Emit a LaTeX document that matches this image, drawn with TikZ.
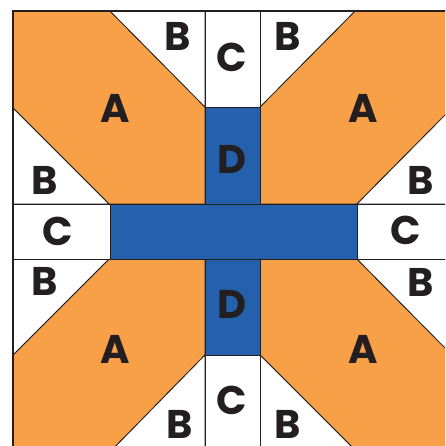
\documentclass[tikz,border=0pt]{standalone}
\usepackage{fontspec}
\setmainfont{Poppins}
\definecolor{qorange}{RGB}{247,160,72}
\definecolor{qblue}{RGB}{36,96,172}
\definecolor{qline}{RGB}{35,31,32}
\begin{document}
\begin{tikzpicture}[x=1pt,y=-1pt,
  piece/.style={draw=qline,line width=0.8pt,line join=miter},
  apiece/.style={piece,fill=qorange},
  bpiece/.style={piece,fill=white},
  dpiece/.style={piece,fill=qblue},
  lab/.style={font=\bfseries\fontsize{40}{40}\selectfont,text=qline,inner sep=0pt,
    text height=27pt,text depth=0pt,anchor=center}]
\useasboundingbox (0,0) rectangle (445,446);
\begin{scope}
\clip (0,0) rectangle (445,446);
\fill[white] (0,0) rectangle (445,446);
% top-left quadrant
\draw[apiece] (13,11) -- (110,11) -- (205,107) -- (205,204) -- (109,204) -- (13,108) -- cycle;
\draw[bpiece] (110,11) -- (205,11) -- (205,107) -- cycle;
\draw[bpiece] (13,108) -- (13,204) -- (109,204) -- cycle;
% top-right quadrant
\draw[apiece] (260,107) -- (355,11) -- (452,11) -- (452,108) -- (357,204) -- (260,204) -- cycle;
\draw[bpiece] (260,11) -- (355,11) -- (260,107) -- cycle;
\draw[bpiece] (452,108) -- (452,204) -- (357,204) -- cycle;
% bottom-left quadrant
\draw[apiece] (13,355) -- (109,259) -- (205,259) -- (205,355) -- (110,452) -- (13,452) -- cycle;
\draw[bpiece] (13,259) -- (109,259) -- (13,355) -- cycle;
\draw[bpiece] (205,355) -- (205,452) -- (110,452) -- cycle;
% bottom-right quadrant
\draw[apiece] (260,259) -- (357,259) -- (452,355) -- (452,452) -- (357,452) -- (260,355) -- cycle;
\draw[bpiece] (357,259) -- (452,259) -- (452,355) -- cycle;
\draw[bpiece] (260,355) -- (260,452) -- (357,452) -- cycle;
% C pieces
\draw[bpiece] (205,11) rectangle (260,107);
\draw[bpiece] (205,355) rectangle (260,452);
\draw[bpiece] (13,204) rectangle (110,259);
\draw[bpiece] (357,204) rectangle (452,259);
% D pieces and bar
\draw[dpiece] (205,107) rectangle (260,204);
\draw[dpiece] (205,259) rectangle (260,355);
\draw[dpiece] (110,204) rectangle (357,259);
% outer border
\draw[qline,line width=2pt] (13,11) rectangle (452,452);
\end{scope}
% labels
\node[lab] (a1) at (115,109) {A};
\node[lab] (a2) at (363,109) {A};
\node[lab] (a3) at (115,350) {A};
\node[lab] (a4) at (363,350) {A};
\node[lab] (b1) at (178,37) {B};
\node[lab] (b2) at (45,181) {B};
\node[lab] (b3) at (288,37) {B};
\node[lab] (b4) at (421,181) {B};
\node[lab] (b5) at (45,282) {B};
\node[lab] (b6) at (180,425) {B};
\node[lab] (b7) at (421,283) {B};
\node[lab] (b8) at (288,425) {B};
\node[lab] (c1) at (232,58) {C};
\node[lab] (c2) at (58,232) {C};
\node[lab] (c3) at (406,231) {C};
\node[lab] (c4) at (232,401) {C};
\node[lab] (d1) at (232,160) {D};
\node[lab] (d2) at (232,305) {D};
\end{tikzpicture}
\end{document}
